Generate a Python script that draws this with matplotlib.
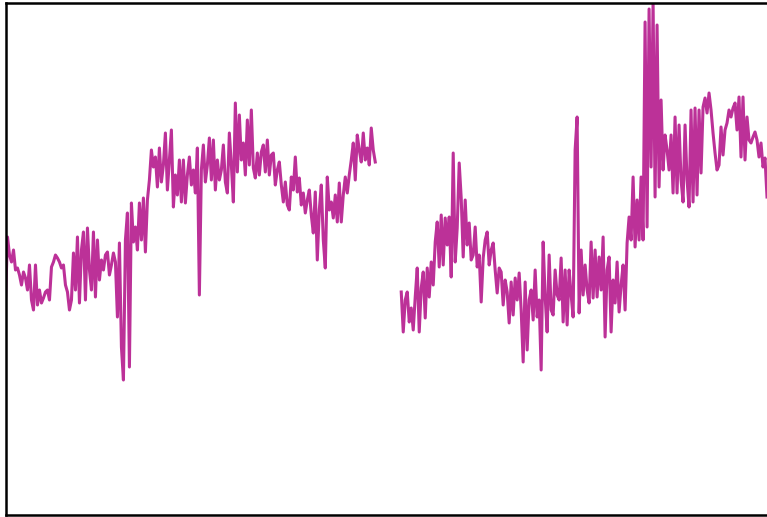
import numpy as np
import matplotlib
matplotlib.use("Agg")
import matplotlib.pyplot as plt

# readings before the gap
part1 = [215, 278, 260, 253, 265, 245, 247, 240, 230, 243, 237, 225, 250, 215, 205, 250,
         210, 225, 212, 217, 223, 225, 215, 248, 253, 260, 257, 253, 247, 250, 230, 223,
         205, 215, 262, 225, 278, 212, 265, 283, 215, 287, 245, 225, 283, 218, 275, 235,
         255, 245, 260, 263, 240, 250, 262, 253, 198, 272, 168, 135, 275, 302, 148, 312,
         273, 288, 265, 312, 275, 317, 263, 315, 335, 365, 348, 358, 328, 367, 333, 350,
         382, 325, 355, 385, 308, 340, 320, 355, 313, 355, 312, 340, 358, 330, 345, 322,
         367, 220, 345, 370, 333, 350, 377, 335, 375, 325, 355, 335, 345, 370, 333, 322,
         382, 350, 313, 412, 343, 400, 355, 372, 340, 395, 350, 405, 347, 337, 362, 340,
         363, 370, 343, 375, 340, 360, 362, 330, 345, 353, 330, 313, 333, 310, 305, 338,
         325, 358, 323, 337, 310, 322, 302, 315, 325, 300, 282, 323, 255, 305, 330, 275,
         247, 338, 305, 313, 297, 320, 293, 332, 293, 320, 338, 322, 340, 355, 372, 335,
         380, 365, 353, 382, 355, 367, 350, 387, 365, 353]

gap = 12

# readings after the gap
part2 = [223, 183, 215, 223, 193, 207, 185, 218, 247, 183, 227, 243, 197, 247, 218, 253,
         230, 273, 293, 248, 300, 250, 297, 270, 298, 238, 362, 253, 287, 352, 317, 258,
         315, 270, 292, 255, 260, 288, 248, 260, 213, 257, 275, 283, 250, 265, 272, 245,
         222, 247, 243, 210, 235, 223, 192, 233, 200, 237, 215, 242, 205, 153, 233, 165,
         215, 225, 195, 245, 198, 215, 145, 273, 218, 183, 260, 205, 200, 245, 220, 215,
         257, 193, 245, 190, 245, 220, 198, 365, 398, 202, 265, 220, 250, 225, 212, 273,
         217, 265, 218, 258, 225, 278, 178, 245, 258, 183, 235, 212, 253, 203, 230, 250,
         205, 272, 298, 275, 338, 268, 315, 275, 338, 275, 493, 288, 506, 348, 513, 318,
         490, 328, 415, 345, 380, 365, 345, 380, 322, 398, 322, 390, 335, 313, 390, 335,
         308, 405, 313, 407, 320, 405, 342, 408, 417, 402, 422, 405, 382, 362, 345, 350,
         388, 360, 385, 392, 405, 398, 407, 412, 385, 418, 358, 418, 355, 398, 375, 372,
         378, 383, 375, 358, 372, 348, 357, 318]

values = np.array(part1 + [np.nan] * gap + part2, dtype=float)
t = np.arange(len(values))

fig = plt.figure(figsize=(7.67, 5.17), dpi=100)
ax = fig.add_axes([5.5 / 767, 2 / 517, 1 - 5.5 / 767, 512 / 517])
ax.plot(t, values, color="#bc3198", linewidth=2.2)

ax.set_xlim(0, len(values) - 1)
ax.set_ylim(0, 512)
ax.set_xticks([])
ax.set_yticks([])
ax.spines["right"].set_visible(False)
for s in ["left", "top", "bottom"]:
    ax.spines[s].set_linewidth(1.8)

fig.savefig("out.png", dpi=100)
